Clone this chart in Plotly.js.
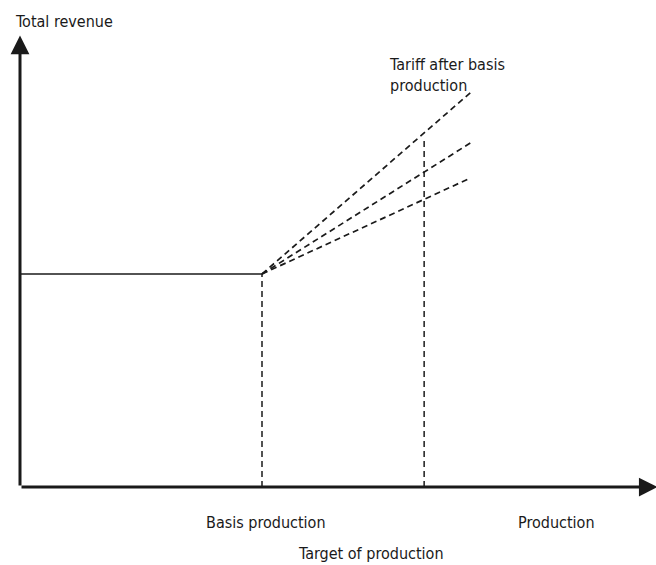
<!DOCTYPE html>
<html>
<head>
<meta charset="utf-8">
<script src="https://cdn.plot.ly/plotly-3.0.1.min.js"></script>
<style>html,body{margin:0;padding:0;background:#fff;}#chart{width:656px;height:565px;}</style>
</head>
<body>
<div id="chart"></div>
<script>
// Data (conceptual units: origin at 0)
const basisProduction = 10;
const targetProduction = 16.7;
const baseRevenue = 10;
const flatX = [0, basisProduction];
const flatY = [baseRevenue, baseRevenue];
const tariffEndX = [18.64, 18.68, 18.6];
const tariffEndY = [18.54, 16.2, 14.5];
const targetTopY = 16.3;
const axisEndX = 26.35;
const axisEndY = 21.2;

const labels = {
  yTitle: 'Total revenue',
  xTitle: 'Production',
  basis: 'Basis production',
  target: 'Target of production',
  tariff: 'Tariff after basis<br>production'
};

const ink = '#1a1a1a';
const font = {family: '"Liberation Sans Narrow", "DejaVu Sans Condensed", "Liberation Sans", sans-serif', size: 16, color: ink};
const dashStyle = '6px,4px';

const traces = [];
traces.push({x: flatX, y: flatY, mode: 'lines', line: {color: ink, width: 1.5}, hoverinfo: 'skip'});
traces.push({x: [basisProduction, basisProduction], y: [0, baseRevenue], mode: 'lines', line: {color: ink, width: 1.5, dash: dashStyle}, hoverinfo: 'skip'});
traces.push({x: [targetProduction, targetProduction], y: [0, targetTopY], mode: 'lines', line: {color: ink, width: 1.5, dash: dashStyle}, hoverinfo: 'skip'});
for (let i = 0; i < tariffEndX.length; i++) {
  traces.push({x: [basisProduction, tariffEndX[i]], y: [baseRevenue, tariffEndY[i]], mode: 'lines', line: {color: ink, width: 1.7, dash: dashStyle}, hoverinfo: 'skip'});
}

const W = 656, H = 565;
function px(x) { return x / W; }
function py(y) { return 1 - y / H; }

const annotations = [
  // axes arrows
  {x: axisEndX, y: 0, ax: 0, ay: 0, xref: 'x', yref: 'y', axref: 'x', ayref: 'y', text: '', showarrow: true, arrowhead: 2, arrowsize: 1.25, arrowwidth: 3, arrowcolor: ink, standoff: 0},
  {x: 0, y: axisEndY, ax: 0, ay: 0, xref: 'x', yref: 'y', axref: 'x', ayref: 'y', text: '', showarrow: true, arrowhead: 2, arrowsize: 1.25, arrowwidth: 3, arrowcolor: ink, standoff: 0},
  {x: px(13), y: py(22), xref: 'paper', yref: 'paper', xanchor: 'left', yanchor: 'middle', text: labels.yTitle, showarrow: false, font: font},
  {x: px(556), y: py(522), xref: 'paper', yref: 'paper', xanchor: 'center', yanchor: 'middle', text: labels.xTitle, showarrow: false, font: font},
  {x: px(266), y: py(522), xref: 'paper', yref: 'paper', xanchor: 'center', yanchor: 'middle', text: labels.basis, showarrow: false, font: font},
  {x: px(371), y: py(553), xref: 'paper', yref: 'paper', xanchor: 'center', yanchor: 'middle', text: labels.target, showarrow: false, font: font},
  {x: px(387), y: py(75), xref: 'paper', yref: 'paper', xanchor: 'left', yanchor: 'middle', align: 'left', text: labels.tariff, showarrow: false, font: font}
];

const x0 = 20, xScale = 24.2, y0 = 487, yScale = 21.3;
const layout = {
  width: W, height: H,
  margin: {l: 0, r: 0, t: 0, b: 0, pad: 0},
  paper_bgcolor: '#fff', plot_bgcolor: '#fff',
  showlegend: false,
  xaxis: {range: [-x0 / xScale, (W - x0) / xScale], visible: false, fixedrange: true},
  yaxis: {range: [-(H - y0) / yScale, y0 / yScale], visible: false, fixedrange: true},
  annotations: annotations
};

Plotly.newPlot('chart', traces, layout, {staticPlot: true, displayModeBar: false});
</script>
</body>
</html>
